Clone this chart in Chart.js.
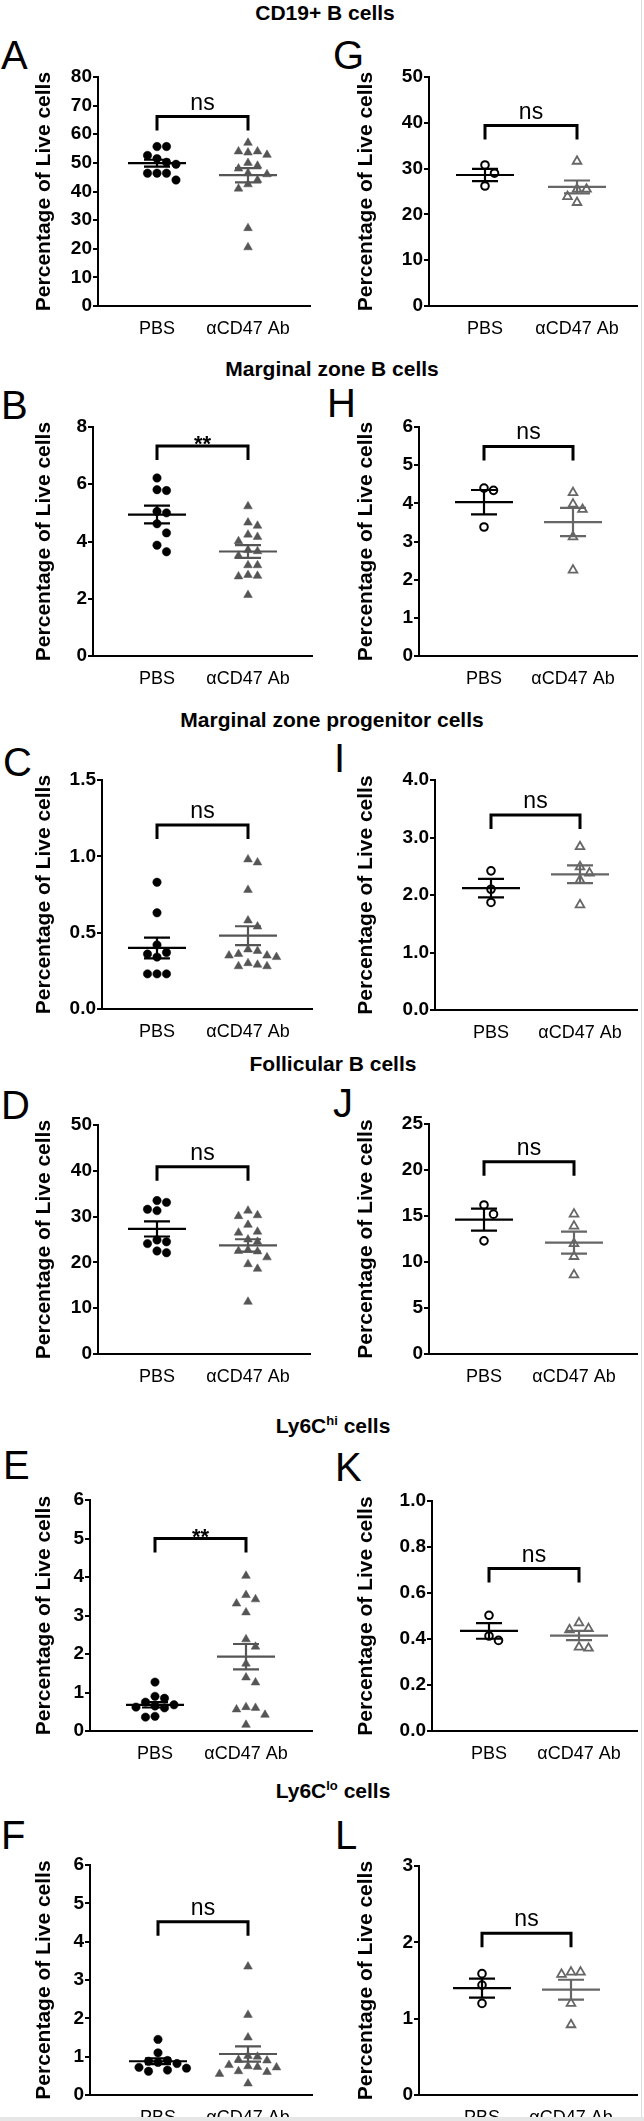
<!DOCTYPE html>
<html lang="en">
<head>
<meta charset="UTF-8">
<title>Splenic cell subsets, PBS vs aCD47 Ab</title>
<style>
  html, body { margin: 0; padding: 0; background: #fff; }
  body {
    width: 644px; height: 2121px; overflow: hidden; position: relative;
    font-family: "Liberation Sans", Arial, sans-serif; color: #000;
  }
  .section {
    position: absolute; font-weight: bold; font-size: 21px; line-height: 21px;
    white-space: nowrap; transform: translateX(-50%);
  }
  .section sup { font-size: 13px; line-height: 0; vertical-align: 8px; }
  .letter { position: absolute; font-size: 40px; line-height: 40px; }
  canvas { position: absolute; }
  .edge { position: absolute; left: 641px; top: 0; width: 1px; height: 2121px; background: #dcdcdc; }
  .foot { position: absolute; left: 0; top: 2117px; width: 644px; height: 4px; background: #e6e6e6; }
</style>
</head>
<body>
<div class="edge"></div>
<script src="https://cdn.jsdelivr.net/npm/chart.js"></script>
<script>
// ---- data ----
const panelLetters = ['A', 'B', 'C', 'D', 'E', 'F', 'G', 'H', 'I', 'J', 'K', 'L'];
const groupNames = ['PBS', 'αCD47 Ab'];
const sectionTitles = ['CD19+ B cells', 'Marginal zone B cells', 'Marginal zone progenitor cells',
                       'Follicular B cells', 'Ly6C<sup>hi</sup> cells', 'Ly6C<sup>lo</sup> cells'];
const yAxisTitle = 'Percentage of Live cells';

const yMaxes    = [80, 8, 1.5, 50, 6, 6, 50, 6, 4, 25, 1, 3];
const ySteps    = [10, 2, 0.5, 10, 1, 1, 10, 1, 1, 5, 0.2, 1];
const yDecimals = [0, 0, 1, 0, 0, 0, 0, 0, 1, 0, 1, 0];

const pbsValues = [
  [55.7, 55.7, 52.6, 51.5, 50.2, 49.5, 46.4, 46.4, 46.4, 44.0],
  [6.22, 5.81, 5.78, 5.05, 5.0, 4.62, 4.30, 3.87, 3.64],
  [0.83, 0.63, 0.42, 0.37, 0.36, 0.34, 0.23, 0.23, 0.23],
  [33.5, 33.1, 31.6, 31.3, 24.9, 24.5, 24.1, 22.5, 22.1],
  [1.27, 0.90, 0.85, 0.75, 0.68, 0.65, 0.62, 0.60, 0.38, 0.36],
  [1.45, 1.10, 0.90, 0.88, 0.85, 0.82, 0.72, 0.70, 0.65, 0.62],
  [30.8, 29.0, 26.2],
  [4.40, 4.34, 3.38],
  [2.42, 2.10, 1.87],
  [16.2, 15.2, 12.3],
  [0.503, 0.413, 0.394],
  [1.59, 1.44, 1.20]
];
const abValues = [
  [57, 54, 54, 53.6, 52.8, 50, 49, 48, 46.4, 46, 44, 42.5, 41, 27.2, 20.5],
  [5.23, 4.66, 4.55, 4.24, 4.16, 4.01, 3.70, 3.66, 3.50, 3.17, 3.17, 2.83, 2.80, 2.78, 2.13],
  [0.98, 0.96, 0.78, 0.58, 0.54, 0.39, 0.38, 0.36, 0.35, 0.35, 0.34, 0.30, 0.29, 0.28, 0.28],
  [31.3, 30.3, 30.1, 28.2, 26.7, 26.5, 25.0, 24.5, 22.7, 22.5, 22.4, 21.1, 19.6, 18.6, 11.4],
  [4.03, 3.53, 3.42, 3.31, 3.08, 2.38, 2.19, 1.75, 1.39, 1.26, 0.62, 0.60, 0.56, 0.42, 0.16],
  [3.35, 2.09, 1.50, 1.02, 1.00, 0.92, 0.90, 0.78, 0.75, 0.73, 0.72, 0.62, 0.60, 0.55, 0.30],
  [31.6, 25.5, 25.5, 23.9, 22.6],
  [4.28, 3.98, 3.84, 3.12, 2.25],
  [2.84, 2.49, 2.38, 2.26, 1.83],
  [15.2, 13.9, 12.0, 10.6, 8.6],
  [0.47, 0.445, 0.44, 0.365, 0.36],
  [1.61, 1.61, 1.58, 1.20, 0.92]
];
const pbsMean = [49.9, 4.94, 0.40, 27.3, 0.68, 0.88, 28.6, 4.03, 2.12, 14.6, 0.435, 1.40];
const pbsSem  = [1.2, 0.31, 0.068, 1.65, 0.07, 0.075, 1.35, 0.32, 0.16, 1.2, 0.034, 0.125];
const abMean  = [45.7, 3.65, 0.48, 23.7, 1.93, 1.07, 26.0, 3.51, 2.36, 12.1, 0.415, 1.38];
const abSem   = [2.5, 0.22, 0.062, 1.35, 0.33, 0.2, 1.4, 0.37, 0.155, 1.2, 0.02, 0.13];
const bracketTop = [66.2, 7.34, 1.206, 40.9, 5.0, 4.52, 39.4, 5.49, 3.39, 20.9, 0.706, 2.12];
const sigLabels  = ['ns', '**', 'ns', 'ns', '**', 'ns', 'ns', 'ns', 'ns', 'ns', 'ns', 'ns'];

// ---- layout (page pixels) ----
// plot box: [left, top, right, bottom]
const plotBoxes = [
  [98, 77, 310, 306], [93, 427, 312, 656], [102, 780, 312, 1009],
  [98, 1125, 310, 1354], [90, 1500, 312, 1731], [90, 1865, 312, 2095],
  [429, 77, 637, 306], [419, 427, 637, 656], [435, 780, 637, 1010],
  [429, 1124, 637, 1354], [432, 1501, 637, 1731], [419, 1866, 637, 2095]
];
// pixel x of the PBS and αCD47 columns
const groupPx = [
  [157, 248], [157, 248], [157, 248], [157, 248], [155, 246], [158, 248],
  [485, 577], [484, 573], [491, 580], [484, 574], [489, 579], [482, 571]
];
const letterPos = [
  [1, 35], [1, 385], [3, 742], [1, 1085], [3, 1445], [1, 1815],
  [333, 35], [327, 383], [334, 738], [333, 1083], [335, 1447], [335, 1815]
];
const titlePos = [[325, 2], [332, 358], [332, 709], [333, 1053], [333, 1415], [333, 1780]];

const FONT = '"Liberation Sans", Arial, sans-serif';
const PBS_COLOR = '#000';
const AB_COLOR = '#555';
const AB_OPEN = '#666';

// section titles and panel letters
sectionTitles.forEach((t, r) => {
  const d = document.createElement('div');
  d.className = 'section';
  d.innerHTML = t;
  d.style.left = titlePos[r][0] + 'px';
  d.style.top = titlePos[r][1] + 'px';
  document.body.appendChild(d);
});
panelLetters.forEach((l, i) => {
  const d = document.createElement('div');
  d.className = 'letter';
  d.textContent = l;
  d.style.left = letterPos[i][0] + 'px';
  d.style.top = letterPos[i][1] + 'px';
  document.body.appendChild(d);
});

// simple beeswarm: spread tied values sideways so they don't overlap
function swarm(values, center, pxX, pxY, step) {
  const order = values.map((v, k) => k).sort((a, b) => values[b] - values[a]);
  const placed = [];
  const out = new Array(values.length);
  order.forEach(k => {
    const py = values[k] * pxY;
    for (let j = 0; j < 40; j++) {
      const off = (j % 2 ? 1 : -1) * Math.ceil(j / 2) * step;
      if (placed.every(p => Math.hypot(p[0] - off, p[1] - py) >= step)) {
        placed.push([off, py]);
        out[k] = { x: center + off / pxX, y: values[k] };
        break;
      }
    }
  });
  return out;
}

// mean ± SEM lines and the significance bracket
function overlay(i) {
  return {
    id: 'overlay' + i,
    afterDatasetsDraw(chart) {
      const ctx = chart.ctx, xs = chart.scales.x, ys = chart.scales.y;
      const open = i >= 6;
      const stats = [[pbsMean[i], pbsSem[i], PBS_COLOR], [abMean[i], abSem[i], open ? AB_OPEN : AB_COLOR]];
      ctx.save();
      ctx.lineWidth = 2.2;
      stats.forEach(([m, s, c], g) => {
        const cx = xs.getPixelForValue(g + 1);
        const ym = ys.getPixelForValue(m);
        const yt = ys.getPixelForValue(m + s);
        const yb = ys.getPixelForValue(m - s);
        ctx.strokeStyle = c;
        ctx.beginPath();
        ctx.moveTo(cx - 29, ym); ctx.lineTo(cx + 29, ym);
        ctx.moveTo(cx, yt); ctx.lineTo(cx, yb);
        ctx.moveTo(cx - 13, yt); ctx.lineTo(cx + 13, yt);
        ctx.moveTo(cx - 13, yb); ctx.lineTo(cx + 13, yb);
        ctx.stroke();
      });
      const x1 = xs.getPixelForValue(1), x2 = xs.getPixelForValue(2);
      const by = ys.getPixelForValue(bracketTop[i]);
      ctx.strokeStyle = '#000';
      ctx.lineWidth = 3;
      ctx.beginPath();
      ctx.moveTo(x1, by + 14); ctx.lineTo(x1, by); ctx.lineTo(x2, by); ctx.lineTo(x2, by + 14);
      ctx.stroke();
      ctx.fillStyle = '#000';
      ctx.textAlign = 'center';
      ctx.textBaseline = 'alphabetic';
      if (sigLabels[i] === 'ns') {
        ctx.font = '23px ' + FONT;
        ctx.fillText(sigLabels[i], (x1 + x2) / 2, by - 7);
      } else {
        ctx.font = 'bold 22px ' + FONT;
        ctx.fillText(sigLabels[i], (x1 + x2) / 2, by + 5);
      }
      ctx.restore();
    }
  };
}

panelLetters.forEach((letter, i) => {
  const col = i < 6 ? 0 : 1;
  const [L, T, R, B] = plotBoxes[i];
  const [c1, c2] = groupPx[i];
  const canvasLeft = col * 322, canvasW = 322;
  const padTop = 30, xAxisH = 45;
  const canvasTop = T - padTop;
  const canvasH = (B - T) + padTop + xAxisH;

  const unit = c2 - c1;
  const xMin = 1 - (c1 - L) / unit;
  const xMax = 2 + (R - c2) / unit;
  const pxY = (B - T) / yMaxes[i];

  const cv = document.createElement('canvas');
  cv.width = canvasW; cv.height = canvasH;
  cv.style.left = canvasLeft + 'px';
  cv.style.top = canvasTop + 'px';
  cv.style.width = canvasW + 'px';
  cv.style.height = canvasH + 'px';
  document.body.appendChild(cv);

  const open = col === 1;
  new Chart(cv.getContext('2d'), {
    type: 'scatter',
    data: {
      datasets: [
        {
          label: groupNames[0],
          data: swarm(pbsValues[i], 1, unit, pxY, 9.5),
          pointStyle: 'circle',
          pointRadius: open ? 3.8 : 4.2,
          backgroundColor: open ? '#fff' : PBS_COLOR,
          borderColor: PBS_COLOR,
          borderWidth: open ? 2 : 0.5
        },
        {
          label: groupNames[1],
          data: swarm(abValues[i], 2, unit, pxY, 9.5),
          pointStyle: 'triangle',
          pointRadius: 5,
          backgroundColor: open ? '#fff' : AB_COLOR,
          borderColor: open ? AB_OPEN : AB_COLOR,
          borderWidth: open ? 1.8 : 0.5
        }
      ]
    },
    options: {
      responsive: false,
      animation: false,
      layout: { padding: { top: padTop, right: canvasLeft + canvasW - R, left: 0, bottom: 0 } },
      plugins: { legend: { display: false }, tooltip: { enabled: false } },
      scales: {
        x: {
          type: 'linear', min: xMin, max: xMax,
          grid: { display: false, drawTicks: false },
          border: { display: true, color: '#000', width: 2 },
          afterBuildTicks: s => { s.ticks = [{ value: 1 }, { value: 2 }]; },
          ticks: {
            callback: (v, idx) => groupNames[idx],
            color: '#000', font: { size: 18, family: FONT },
            padding: 12, maxRotation: 0, autoSkip: false
          },
          afterFit: s => { s.height = xAxisH; }
        },
        y: {
          min: 0, max: yMaxes[i],
          ticks: {
            stepSize: ySteps[i],
            callback: v => Number(v).toFixed(yDecimals[i]),
            color: '#000', font: { size: 19, weight: 'bold', family: FONT },
            padding: 1, autoSkip: false
          },
          grid: { display: true, drawOnChartArea: false, drawTicks: true, tickLength: 5, color: '#000', lineWidth: 2 },
          border: { display: true, color: '#000', width: 2 },
          title: {
            display: true, text: yAxisTitle, color: '#000',
            font: { size: 21, weight: 'bold', family: FONT },
            padding: { top: 32, bottom: 0 }
          },
          afterFit: s => { s.width = L - canvasLeft; }
        }
      }
    },
    plugins: [overlay(i)]
  });
});

const foot = document.createElement('div');
foot.className = 'foot';
document.body.appendChild(foot);
</script>
</body>
</html>
